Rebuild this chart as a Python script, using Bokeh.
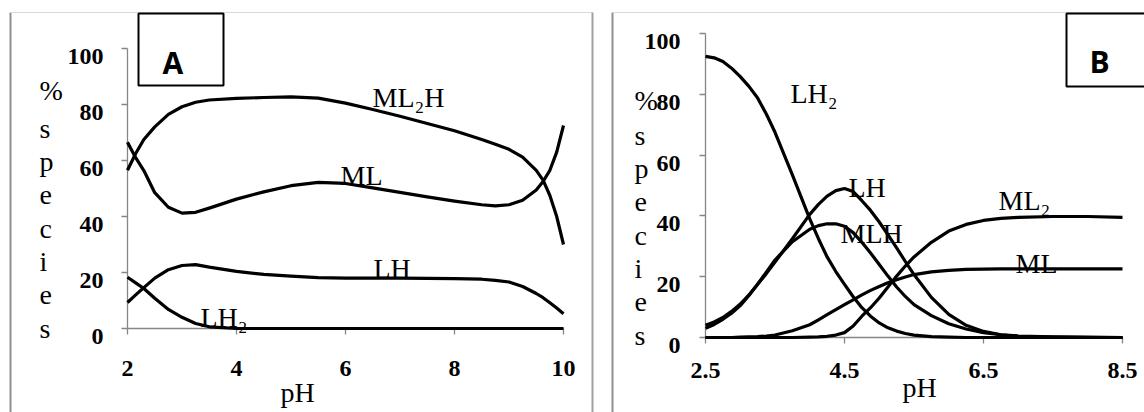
from bokeh.plotting import figure
from bokeh.layouts import row
from bokeh.models import Range1d, FixedTicker
from bokeh.core.properties import value
from bokeh.embed import file_html
from bokeh.resources import INLINE

# ---------------- data: panel A ----------------
ph_a = [2.0, 2.15, 2.3, 2.5, 2.75, 3.0, 3.25, 3.5, 4.0, 4.5, 5.0, 5.5, 6.0, 6.5,
        7.0, 7.5, 8.0, 8.5, 8.75, 9.0, 9.25, 9.5, 9.625, 9.75, 9.875, 10.0]
ml2h_a = [56.5, 62.5, 67.5, 72.0, 76.5, 79.2, 80.8, 81.6, 82.2, 82.5, 82.7, 82.3,
          80.5, 78.2, 75.8, 73.2, 70.6, 67.5, 65.8, 64.0, 61.2, 56.5, 53.0, 47.5,
          40.0, 30.0]
ml_a = [66.5, 61.0, 56.4, 48.5, 43.3, 41.2, 41.5, 43.0, 46.2, 48.8, 51.0, 52.2,
        51.8, 50.2, 48.6, 47.0, 45.5, 44.2, 43.8, 44.2, 45.8, 49.5, 52.5, 56.5,
        63.0, 72.5]
lh_a = [9.3, 12.0, 14.6, 18.0, 21.0, 22.5, 22.8, 21.9, 20.4, 19.3, 18.7, 18.2,
        18.0, 18.0, 18.0, 17.9, 17.8, 17.6, 17.2, 16.6, 15.0, 12.5, 11.0, 9.2,
        7.3, 5.3]
lh2_a = [18.3, 16.3, 14.3, 10.8, 6.8, 4.0, 1.8, 0.6, 0.0, 0.0, 0.0, 0.0,
         0.0, 0.0, 0.0, 0.0, 0.0, 0.0, 0.0, 0.0, 0.0, 0.0, 0.0, 0.0, 0.0, 0.0]
ticks_a_x = [2, 4, 6, 8, 10]
labels_a_x = ["2", "4", "6", "8", "10"]
ticks_y = [0, 20, 40, 60, 80, 100]
labels_y = ["0", "20", "40", "60", "80", "100"]
names_a = ["ML\u2082H", "ML", "LH", "LH\u2082"]

# ---------------- data: panel B ----------------
ph_b = [2.5, 2.625, 2.75, 2.875, 3.0, 3.125, 3.25, 3.375, 3.5, 3.75, 4.0, 4.125,
        4.25, 4.375, 4.5, 4.625, 4.75, 4.875, 5.0, 5.125, 5.25, 5.375, 5.5, 5.75,
        6.0, 6.25, 6.5, 6.75, 7.0, 7.5, 8.0, 8.5]
lh2_b = [92.5, 92.0, 90.8, 88.6, 85.8, 82.6, 78.8, 73.5, 67.5, 53.5, 39.0, 32.5,
         26.5, 21.7, 17.5, 13.4, 9.8, 7.0, 4.8, 3.2, 2.1, 1.3, 0.8, 0.3,
         0.1, 0.0, 0.0, 0.0, 0.0, 0.0, 0.0, 0.0]
lh_b = [4.0, 5.1, 6.6, 8.6, 11.0, 14.0, 17.5, 21.0, 24.8, 32.5, 40.5, 43.8,
        46.5, 48.3, 49.0, 48.0, 45.0, 41.8, 38.0, 33.8, 29.5, 25.0, 20.7, 13.2,
        7.6, 4.0, 2.0, 0.9, 0.4, 0.1, 0.0, 0.0]
mlh_b = [3.0, 4.3, 6.0, 8.0, 10.5, 13.8, 17.5, 21.5, 25.5, 31.5, 35.6, 36.8,
         37.4, 37.4, 36.6, 34.5, 31.3, 27.8, 24.0, 20.2, 16.6, 13.5, 10.8, 7.2,
         4.5, 2.8, 1.6, 0.9, 0.5, 0.2, 0.1, 0.0]
ml2_b = [0.0, 0.0, 0.0, 0.0, 0.0, 0.0, 0.0, 0.0, 0.0, 0.0, 0.1, 0.2,
         0.4, 0.8, 1.6, 3.8, 7.0, 9.8, 13.0, 16.6, 20.2, 23.5, 26.5, 31.3,
         35.0, 37.2, 38.5, 39.2, 39.5, 39.8, 39.8, 39.5]
ml_b = [0.0, 0.0, 0.0, 0.0, 0.1, 0.2, 0.3, 0.5, 0.8, 2.2, 4.2, 5.8,
        7.5, 9.2, 10.8, 12.4, 14.0, 15.5, 16.8, 18.0, 19.0, 19.9, 20.7, 21.6,
        22.1, 22.4, 22.5, 22.6, 22.6, 22.6, 22.6, 22.6]
ticks_b_x = [2.5, 4.5, 6.5, 8.5]
labels_b_x = ["2.5", "4.5", "6.5", "8.5"]
names_b = ["LH\u2082", "LH", "MLH", "ML\u2082", "ML"]

ylabel_letters = ["%", "s", "p", "e", "c", "i", "e", "s"]

SERIF = "Liberation Serif"
H = 412


def make_panel(W, page_x0, xa, xb, ya_px, y100_px, xticks, x_bounds):
    (v0, p0), (v1, p1) = xa, xb
    c0 = p0 - page_x0
    sx = (p1 - p0) / (v1 - v0)
    xs, xe = v0 - c0 / sx, v0 + (W - c0) / sx
    sy = (ya_px - y100_px) / 100.0
    ys, ye = -(H - ya_px) / sy, ya_px / sy

    p = figure(width=W, height=H, x_range=Range1d(xs, xe), y_range=Range1d(ys, ye),
               output_backend="svg", toolbar_location=None, min_border=0,
               outline_line_color=None, background_fill_color="white",
               border_fill_color="white")
    p.xgrid.visible = False
    p.ygrid.visible = False
    p.xaxis.fixed_location = 0
    p.yaxis.fixed_location = x_bounds[0]
    p.xaxis.bounds = x_bounds
    p.yaxis.bounds = (0, 100)
    p.xaxis.ticker = FixedTicker(ticks=xticks)
    p.yaxis.ticker = FixedTicker(ticks=ticks_y)
    for ax in (p.xaxis[0], p.yaxis[0]):
        ax.axis_line_color = "#868686"
        ax.axis_line_width = 1.3
        ax.major_tick_line_color = "#868686"
        ax.major_tick_line_width = 1.3
        ax.major_tick_out = 6
        ax.major_tick_in = 0
        ax.minor_tick_line_color = None
        ax.major_label_text_color = None
        ax.level = "underlay"

    def dx(page_px):
        return xs + (page_px - page_x0) / sx

    def dy(page_py):
        return (ya_px - page_py) / sy

    return p, dx, dy, sy


def tick_labels(p, dx, dy, sy, xticks, xlabels, x_base, y_right):
    p.text(x=xticks, y=[dy(x_base)] * len(xticks), text=xlabels,
           text_font=value(SERIF), text_font_style="bold", text_font_size="24px",
           text_color="black", text_align="center", text_baseline="alphabetic")
    p.text(x=[dx(y_right)] * len(ticks_y), y=[t - 8.0 / sy for t in ticks_y],
           text=labels_y, text_font=value(SERIF), text_font_style="bold",
           text_font_size="24px", text_color="black", text_align="right",
           text_baseline="alphabetic")


def borders(p, dx, dy, left, right, top, bottom, right_line=None):
    p.segment(x0=[dx(left)], y0=[dy(top)], x1=[dx(left)], y1=[dy(bottom)],
              line_color="#8f8f8f", line_width=2)
    p.segment(x0=[dx(left)], y0=[dy(top)], x1=[dx(right)], y1=[dy(top)],
              line_color="#dadada", line_width=1)
    if right_line is not None:
        p.segment(x0=[dx(right_line)], y0=[dy(top)], x1=[dx(right_line)],
                  y1=[dy(bottom)], line_color="#a0a0a0", line_width=2)


def species_label(p, dx, dy, left_px, pct_base, first_base, step):
    xs_ = [dx(left_px)] * len(ylabel_letters)
    ys_ = [dy(pct_base)] + [dy(first_base + i * step) for i in range(len(ylabel_letters) - 1)]
    p.text(x=xs_, y=ys_, text=ylabel_letters, text_font=value(SERIF),
           text_font_size="28px", text_color="black",
           text_align="left", text_baseline="alphabetic")


def letter_box(p, dx, dy, l, r, t, b, letter, lx, lb):
    p.quad(left=[dx(l)], right=[dx(r)], top=[dy(t)], bottom=[dy(b)],
           fill_color="white", line_color="black", line_width=2)
    p.text(x=[dx(lx)], y=[dy(lb)], text=[letter], text_font=value("Open Sans"),
           text_font_style="bold", text_font_size="30px", text_color="black",
           text_align="left", text_baseline="alphabetic")


# ---------------- Panel A ----------------
WA = 594
pa, dxa, dya, sya = make_panel(WA, 0, (2, 127), (10, 563), 328, 48, ticks_a_x, (2, 10))
borders(pa, dxa, dya, 10, 592, 12, 412, right_line=592)
for ys_ in (ml2h_a, ml_a, lh_a, lh2_a):
    pa.line(ph_a, ys_, line_color="black", line_width=3.2, line_join="round")
tick_labels(pa, dxa, dya, sya, ticks_a_x, labels_a_x, 368, 103)
pos_a = [(372, 97), (340, 175), (373, 268), (200, 317)]
pa.text(x=[dxa(px) for px, _ in pos_a], y=[dya(py) for _, py in pos_a], text=names_a,
        text_font=value(SERIF), text_font_size="28px", text_color="black",
        text_align="left", text_baseline="alphabetic")
pa.text(x=[dxa(297)], y=[dya(392)], text=["pH"], text_font=value(SERIF),
        text_font_size="28px", text_color="black", text_align="center",
        text_baseline="alphabetic")
species_label(pa, dxa, dya, 39, 90, 128, 33.3)
letter_box(pa, dxa, dya, 138, 223, 13, 85, "A", 162, 62)

# ---------------- Panel B ----------------
WB = 550
x0b = WA
pb, dxb, dyb, syb = make_panel(WB, x0b, (2.5, 705), (8.5, 1122), 337, 33, ticks_b_x,
                               (2.5, 8.5))
borders(pb, dxb, dyb, 612, 1144, 12, 412)
for ys_ in (lh2_b, lh_b, mlh_b, ml2_b, ml_b):
    pb.line(ph_b, ys_, line_color="black", line_width=3.2, line_join="round")
tick_labels(pb, dxb, dyb, syb, ticks_b_x, labels_b_x, 370, 680)
pos_b = [(790, 93), (848, 187), (840, 233), (998, 200), (1015, 263)]
pb.text(x=[dxb(px) for px, _ in pos_b], y=[dyb(py) for _, py in pos_b], text=names_b,
        text_font=value(SERIF), text_font_size="28px", text_color="black",
        text_align="left", text_baseline="alphabetic")
pb.text(x=[dxb(919)], y=[dyb(387)], text=["pH"], text_font=value(SERIF),
        text_font_size="28px", text_color="black", text_align="center",
        text_baseline="alphabetic")
species_label(pb, dxb, dyb, 634, 100, 135, 33.3)
letter_box(pb, dxb, dyb, 1066, 1154, 13, 86, "B", 1089, 61)

layout = row(pa, pb)
open("out.html", "w").write(file_html(layout, INLINE))
